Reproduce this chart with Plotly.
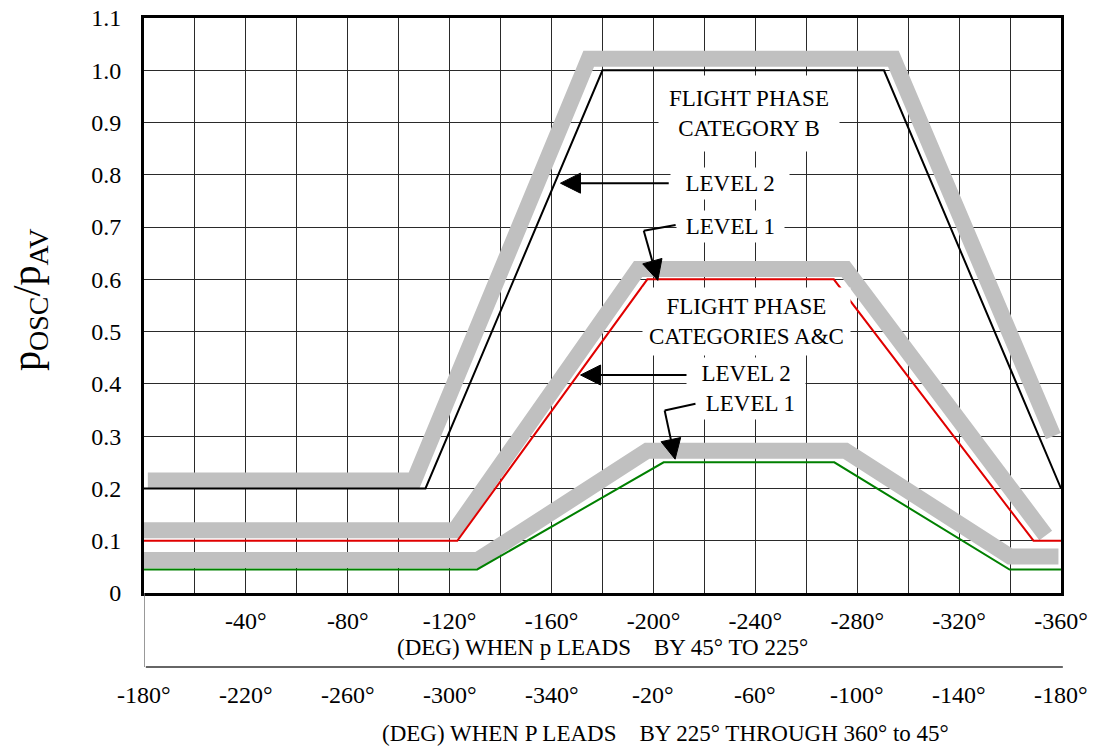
import math
import plotly.graph_objects as go

# ---------------- data ----------------
# Phase angle (deg) on the upper scale (p leads by 45° to 225°) vs pOSC/pAV

# Upper curve: thin boundary line and wide grey boundary band
upper_line_deg = [0, -110.5, -180, -290.5, -360]
upper_line_val = [0.2, 0.2, 1.0, 1.0, 0.2]
upper_band_deg = [-1.5, -106, -174.6, -294.2, -357]
upper_band_val = [0.215, 0.215, 1.022, 1.022, 0.30]

# Middle curve (red line + grey band)
middle_line_deg = [0, -123, -197.6, -270.8, -349.2, -360]
middle_line_val = [0.1, 0.1, 0.6, 0.6, 0.1, 0.1]
middle_band_deg = [0, -122, -194, -275.4, -354]
middle_band_val = [0.12, 0.12, 0.62, 0.62, 0.11]

# Lower curve (green line + grey band)
lower_line_deg = [0, -130.8, -204, -271, -339.8, -360]
lower_line_val = [0.045, 0.045, 0.25, 0.25, 0.045, 0.045]
lower_band_deg = [0, -131, -197.5, -275.4, -340, -359]
lower_band_val = [0.063, 0.063, 0.272, 0.272, 0.07, 0.07]

# Axis ticks / labels
grid_deg = [0, -20, -40, -60, -80, -100, -120, -140, -160, -180,
            -200, -220, -240, -260, -280, -300, -320, -340, -360]
upper_tick_deg = [-40, -80, -120, -160, -200, -240, -280, -320, -360]
upper_tick_text = ["-40°", "-80°", "-120°", "-160°", "-200°",
                   "-240°", "-280°", "-320°", "-360°"]
lower_tick_deg = [0, -40, -80, -120, -160, -200, -240, -280, -320, -360]
lower_tick_text = ["-180°", "-220°", "-260°", "-300°", "-340°",
                   "-20°", "-60°", "-100°", "-140°", "-180°"]
y_tick_val = [0, 0.1, 0.2, 0.3, 0.4, 0.5, 0.6, 0.7, 0.8, 0.9, 1.0, 1.1]
y_tick_text = ["0", "0.1", "0.2", "0.3", "0.4", "0.5", "0.6",
               "0.7", "0.8", "0.9", "1.0", "1.1"]

X_RANGE = [0, -360]
Y_RANGE = [0, 1.1]

# ---------------- styling ----------------
FONT = "Liberation Serif"
BAND = "#c0c0c0"
GRID = "#2a2a2a"
W, H = 1095, 749
ML, MR, MT, MB = 144, 34, 18, 156
PH = H - MT - MB  # plot height in px
PW = W - ML - MR  # plot width in px
DEG_PX = PW / abs(X_RANGE[1] - X_RANGE[0])   # px per degree
VAL_PX = PH / (Y_RANGE[1] - Y_RANGE[0])      # px per unit


def py_to_paper(py):
    """screen row -> paper y (plot area 0..1)"""
    return (H - MB - py) / PH


def px_to_paper(px):
    """screen column -> paper x (plot area 0..1)"""
    return (px - ML) / PW


fig = go.Figure()

for xs, ys in [(upper_band_deg, upper_band_val),
               (middle_band_deg, middle_band_val),
               (lower_band_deg, lower_band_val)]:
    fig.add_trace(go.Scatter(x=xs, y=ys, mode="lines",
                             line=dict(color=BAND, width=16),
                             hoverinfo="skip", showlegend=False))

for xs, ys, col in [(upper_line_deg, upper_line_val, "black"),
                    (middle_line_deg, middle_line_val, "#e00000"),
                    (lower_line_deg, lower_line_val, "#008000")]:
    fig.add_trace(go.Scatter(x=xs, y=ys, mode="lines",
                             line=dict(color=col, width=2),
                             hoverinfo="skip", showlegend=False))

ann = []
shapes = []
tf = dict(family=FONT, size=23, color="black")


# text blocks with white backing
def label(text, x, y, pad=3):
    ann.append(dict(text=text, x=x, y=y, xref="x", yref="y", showarrow=False,
                    font=tf, bgcolor="white", borderpad=pad,
                    xanchor="center", yanchor="middle"))


label("FLIGHT PHASE<br>CATEGORY B", -237.4, 0.917, pad=10)
label("\u00a0\u00a0LEVEL 2\u00a0\u00a0", -230.1, 0.784)
label("\u00a0LEVEL 1\u00a0", -230.3, 0.702)
label("FLIGHT PHASE<br>CATEGORIES A&amp;C", -236.6, 0.520, pad=6)
label("\u00a0\u00a0LEVEL 2\u00a0\u00a0", -236.2, 0.420)
label("\u00a0LEVEL 1\u00a0", -238.1, 0.363)


def leader(points, head_len=20, head_half=10):
    """Polyline leader in data coords ending in a filled triangular head."""
    (xa, ya), (xb, yb) = points[-2], points[-1]
    # direction of last segment in screen pixels (x grows as deg decreases)
    dx = -(xb - xa) * DEG_PX
    dy = (yb - ya) * VAL_PX
    n = math.hypot(dx, dy)
    ux, uy = dx / n, dy / n
    vx, vy = -uy, ux

    def to_data(ox, oy):
        return xb - ox / DEG_PX, yb + oy / VAL_PX

    base = to_data(-head_len * ux, -head_len * uy)
    c1 = to_data(-head_len * ux + head_half * vx, -head_len * uy + head_half * vy)
    c2 = to_data(-head_len * ux - head_half * vx, -head_len * uy - head_half * vy)
    pts = list(points[:-1]) + [base]
    for (x0, y0), (x1, y1) in zip(pts[:-1], pts[1:]):
        shapes.append(dict(type="line", xref="x", yref="y", x0=x0, y0=y0,
                           x1=x1, y1=y1, line=dict(color="black", width=2)))
    shapes.append(dict(type="path", xref="x", yref="y",
                       path=f"M {xb},{yb} L {c1[0]},{c1[1]} L {c2[0]},{c2[1]} Z",
                       fillcolor="black", line=dict(color="black", width=1)))


leader([(-206.0, 0.784), (-163.5, 0.784)])
leader([(-208.7, 0.704), (-196.2, 0.693), (-201.7, 0.598)])
leader([(-213.3, 0.417), (-171.4, 0.417)])
leader([(-216.5, 0.362), (-204.4, 0.349), (-208.5, 0.256)])

# left rule below the plot and separator between the two angle scales
shapes.append(dict(type="line", xref="x", yref="paper", x0=0, x1=0, y0=0,
                   y1=py_to_paper(667), line=dict(color="#777777", width=1.5)))
shapes.append(dict(type="line", xref="paper", yref="paper", x0=0.002, x1=1.002,
                   y0=py_to_paper(667), y1=py_to_paper(667),
                   line=dict(color="#333333", width=1.3)))

tick_font = dict(family=FONT, size=24, color="black")

# lower angle scale labels
for v, t in zip(lower_tick_deg, lower_tick_text):
    ann.append(dict(text=t, x=v, y=py_to_paper(695), xref="x", yref="paper",
                    showarrow=False, font=tick_font,
                    xanchor="center", yanchor="middle"))

# scale captions
ann.append(dict(text="(DEG) WHEN p LEADS\u00a0\u00a0\u00a0\u00a0BY 45° TO 225°",
                x=0.5, y=py_to_paper(647), xref="paper", yref="paper",
                showarrow=False, font=dict(family=FONT, size=23, color="black"),
                xanchor="center", yanchor="middle"))
ann.append(dict(text="(DEG) WHEN P LEADS\u00a0\u00a0\u00a0\u00a0BY 225° THROUGH 360° to 45°",
                x=px_to_paper(665), y=py_to_paper(733),
                xref="paper", yref="paper",
                showarrow=False, font=dict(family=FONT, size=23, color="black"),
                xanchor="center", yanchor="middle"))
# y axis caption
ann.append(dict(text="p<sub>OSC</sub>/p<sub>AV</sub>",
                x=px_to_paper(29), y=py_to_paper(300),
                xref="paper", yref="paper", textangle=-90,
                showarrow=False, font=dict(family=FONT, size=40, color="black"),
                xanchor="center", yanchor="middle"))

fig.update_layout(
    width=W, height=H, autosize=False,
    margin=dict(l=ML, r=MR, t=MT, b=MB, pad=0, autoexpand=False),
    paper_bgcolor="white", plot_bgcolor="white",
    font=dict(family=FONT, size=24, color="black"),
    annotations=ann, shapes=shapes,
    xaxis=dict(range=X_RANGE, tickmode="array", tickvals=upper_tick_deg,
               ticktext=upper_tick_text, ticks="", ticklabelstandoff=4,
               tickfont=tick_font, automargin=False,
               showgrid=True, gridcolor=GRID, gridwidth=1,
               minor=dict(tickvals=grid_deg, showgrid=True, gridcolor=GRID,
                          gridwidth=1, ticks=""),
               zeroline=False, showline=True, mirror=True, linecolor="black",
               linewidth=3, fixedrange=True),
    yaxis=dict(range=Y_RANGE, tickmode="array", tickvals=y_tick_val,
               ticktext=y_tick_text, ticks="", ticklabelstandoff=15,
               tickfont=tick_font, automargin=False,
               showgrid=True, gridcolor=GRID, gridwidth=1,
               zeroline=False, showline=True, mirror=True, linecolor="black",
               linewidth=3, fixedrange=True),
)

fig.write_html("out.html")
